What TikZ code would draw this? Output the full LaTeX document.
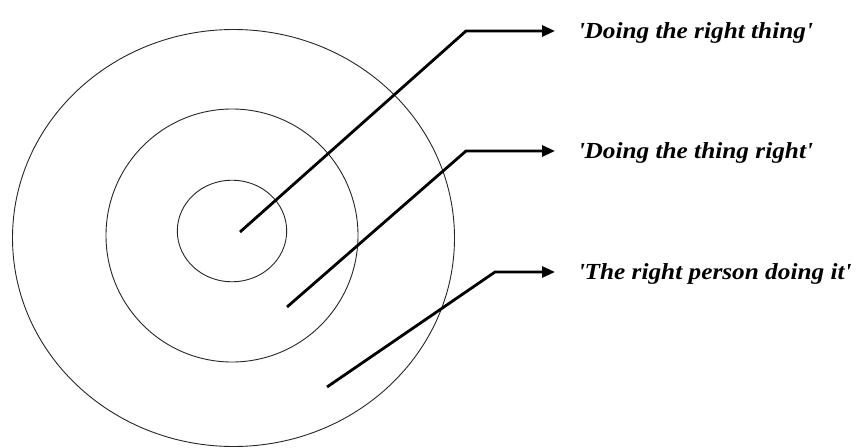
\documentclass[tikz,border=0pt]{standalone}
\usepackage{fontspec}
\setmainfont{Liberation Serif}
\newfontfamily\labelfont[FakeStretch=1.1]{Liberation Serif}
\usetikzlibrary{arrows.meta}

\begin{document}
\begin{tikzpicture}[x=1pt, y=-1pt,
    ring/.style={draw, line width=0.9pt, black!85},
    leader/.style={line width=2.8pt, -{Triangle[length=13pt, width=11pt]}, shorten >=23pt},
    tag/.style={anchor=west, inner sep=0pt, text height=15pt, text depth=0pt,
        font=\labelfont\fontsize{23}{27}\selectfont\bfseries\itshape}]
  \useasboundingbox (0,0) rectangle (859,447);
  % target rings
  \draw[ring] (233.5,238) ellipse [x radius=221, y radius=208.5];
  \draw[ring] (232,235.5) ellipse [x radius=126, y radius=126.5];
  \draw[ring] (232,231) ellipse [x radius=54.7, y radius=50.8];
  % labels
  \node[tag] (rightthing) at (578,31) {\textquotesingle Doing the right thing\textquotesingle};
  \node[tag] (thingright) at (578,151) {\textquotesingle Doing the thing right\textquotesingle};
  \node[tag] (rightperson) at (578,272) {\textquotesingle The right person doing it\textquotesingle};
  % leaders
  \coordinate (inner) at (240,232);
  \coordinate (middle) at (287,307);
  \coordinate (outer) at (327,387);
  \coordinate (bend1) at (466,31);
  \coordinate (bend2) at (466,151);
  \coordinate (bend3) at (495,272);
  \draw[leader] (inner) -- (bend1) -- (rightthing.west);
  \draw[leader] (middle) -- (bend2) -- (thingright.west);
  \draw[leader] (outer) -- (bend3) -- (rightperson.west);
\end{tikzpicture}
\end{document}
